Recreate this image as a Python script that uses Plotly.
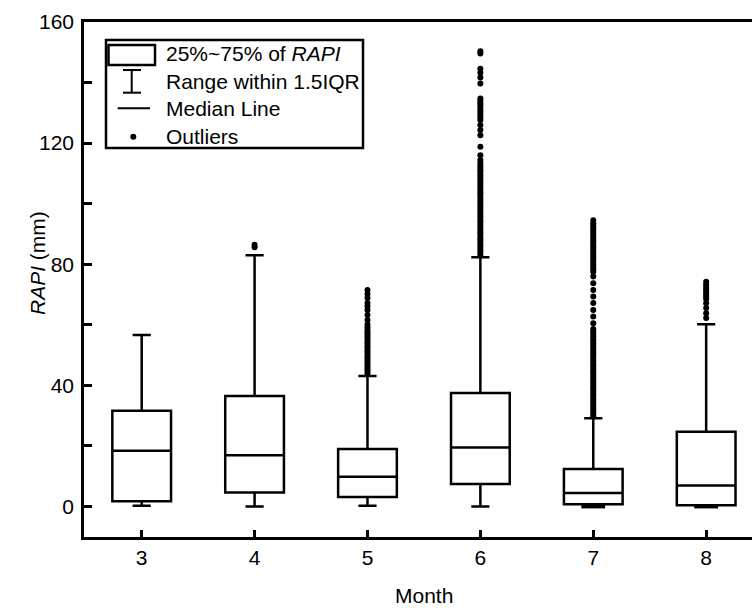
import plotly.graph_objects as go

# ---------------- data ----------------
months = [3, 4, 5, 6, 7, 8]
q1 = [1.7, 4.6, 3.1, 7.4, 0.7, 0.4]
median = [18.4, 16.9, 9.8, 19.5, 4.4, 6.9]
q3 = [31.6, 36.5, 19.0, 37.5, 12.4, 24.7]
lower = [0.2, 0.0, 0.2, 0.0, 0.0, 0.0]
upper = [56.6, 83.0, 43.1, 82.3, 29.1, 60.2]

out_4 = [85.6, 86.4]
out_5 = [44.0, 44.8, 45.5, 46.3, 47.0, 47.8, 48.5, 49.3, 50.0, 50.8, 51.5, 52.3,
         53.0, 53.8, 54.5, 55.3, 56.0, 56.8, 57.5, 58.3, 59.2, 60.1, 61.6, 63.2,
         64.9, 66.1, 67.2, 68.8, 70.2, 71.5]
out_6 = [83.0, 83.8, 84.6, 85.4, 86.2, 87.0, 87.8, 88.6, 89.4, 90.2, 91.0, 91.8,
         92.6, 93.4, 94.2, 95.0, 95.8, 96.6, 97.4, 98.2, 99.0, 99.8, 100.6, 101.4,
         102.2, 103.0, 103.8, 104.6, 105.4, 106.2, 107.0, 107.8, 108.6, 109.4,
         110.2, 111.0, 111.8, 112.6, 113.4, 114.4, 116.0, 118.8, 122.6, 124.3,
         126.0, 127.6, 128.4, 129.2, 130.0, 130.8, 131.6, 132.4, 133.2, 134.0,
         134.7, 139.7, 141.7, 143.2, 144.6, 149.6, 150.3]
out_7 = [29.8, 30.6, 31.4, 32.2, 33.0, 33.8, 34.6, 35.4, 36.2, 37.0, 37.8, 38.6,
         39.4, 40.2, 41.0, 41.8, 42.6, 43.4, 44.2, 45.0, 45.8, 46.6, 47.4, 48.2,
         49.0, 49.8, 50.6, 51.4, 52.2, 53.0, 53.8, 54.6, 55.4, 56.2, 57.0, 57.8,
         58.6, 60.5, 62.7, 64.9, 67.2, 69.3, 71.5, 73.7, 75.9, 77.5, 78.3, 79.1,
         79.9, 80.7, 81.5, 82.3, 83.1, 83.9, 84.7, 85.5, 86.3, 87.1, 87.9, 88.7,
         89.5, 90.3, 91.1, 91.9, 92.7, 93.5, 94.5]
out_8 = [62.2, 63.8, 65.5, 67.1, 68.5, 69.3, 70.1, 70.9, 71.7, 72.5, 73.3, 74.2]
outliers = {4: out_4, 5: out_5, 6: out_6, 7: out_7, 8: out_8}

# months whose lower whisker cap is drawn heavier (many values at zero)
heavy_cap_months = [7, 8]
heavy_cap_values = [0.0, 0.0]

legend_labels = ["25%~75% of <i>RAPI</i>", "Range within 1.5IQR", "Median Line", "Outliers"]

FONT = "Liberation Sans, Arial, sans-serif"
LW = 2.5
W, H = 752, 608
ML, MR, MT, MB = 84, 0, 22, 71
PW, PH = W - ML - MR, H - MT - MB


def px(x):
    return (x - ML) / PW


def py(y):
    return (H - MB - y) / PH


fig = go.Figure()

fig.add_trace(go.Box(
    x=months, q1=q1, median=median, q3=q3,
    lowerfence=lower, upperfence=upper,
    boxpoints=False, width=0.52, whiskerwidth=0.31,
    fillcolor="rgba(255,255,255,0)",
    line=dict(color="black", width=LW),
    showlegend=False, hoverinfo="skip",
))

for m, vals in outliers.items():
    fig.add_trace(go.Scatter(
        x=[m] * len(vals), y=vals, mode="markers",
        marker=dict(color="black", size=6, line=dict(width=0)),
        showlegend=False, hoverinfo="skip",
    ))

# heavier lower caps (zero values piled on the whisker cap)
fig.add_trace(go.Scatter(
    x=heavy_cap_months, y=heavy_cap_values, mode="markers",
    marker=dict(symbol="line-ew", size=17, color="black",
                line=dict(color="black", width=4)),
    showlegend=False, hoverinfo="skip",
))

shapes = []
# legend frame
shapes.append(dict(type="rect", xref="paper", yref="paper",
                   x0=px(106), x1=px(363), y0=py(148), y1=py(40),
                   line=dict(color="black", width=LW), fillcolor="white", layer="above"))
# box icon
shapes.append(dict(type="rect", xref="paper", yref="paper",
                   x0=px(108.5), x1=px(155), y0=py(65), y1=py(45),
                   line=dict(color="black", width=LW), layer="above"))
# whisker icon
for (xa, ya, xb, yb) in [(131.7, 70, 131.7, 92.7), (123, 70, 141, 70), (123, 92.7, 141, 92.7)]:
    shapes.append(dict(type="line", xref="paper", yref="paper",
                       x0=px(xa), y0=py(ya), x1=px(xb), y1=py(yb),
                       line=dict(color="black", width=2), layer="above"))
# median line icon
shapes.append(dict(type="line", xref="paper", yref="paper",
                   x0=px(117.7), y0=py(108.3), x1=px(150), y1=py(108.3),
                   line=dict(color="black", width=2), layer="above"))
# outlier dot icon
shapes.append(dict(type="circle", xref="paper", yref="paper",
                   x0=px(130.3), y0=py(139.7), x1=px(136.3), y1=py(133.7),
                   fillcolor="black", line=dict(width=0), layer="above"))

annotations = []
for lab, yc in zip(legend_labels, [53.7, 81.7, 108, 136]):
    annotations.append(dict(text=lab, xref="paper", yref="paper", x=px(164), y=py(yc),
                            xanchor="left", yanchor="middle", showarrow=False,
                            font=dict(family=FONT, size=21, color="black")))
annotations.append(dict(text="<i>RAPI</i> (mm)", xref="paper", yref="paper",
                        x=px(37), y=py(263), textangle=-90, showarrow=False,
                        xanchor="center", yanchor="middle",
                        font=dict(family=FONT, size=21, color="black")))
annotations.append(dict(text="Month", xref="paper", yref="paper",
                        x=px(424), y=py(595), showarrow=False,
                        xanchor="center", yanchor="middle",
                        font=dict(family=FONT, size=21, color="black")))

fig.update_layout(
    width=W, height=H,
    margin=dict(l=ML, r=MR, t=MT, b=MB, pad=0),
    paper_bgcolor="white", plot_bgcolor="white",
    font=dict(family=FONT, size=21, color="black"),
    shapes=shapes, annotations=annotations,
    showlegend=False,
)
fig.update_xaxes(
    range=[2.489, 8.406], tickvals=months, ticks="inside", ticklen=7, tickwidth=LW,
    tickcolor="black", showline=True, linecolor="black", linewidth=LW, mirror=True,
    showgrid=False, zeroline=False, ticklabelstandoff=0,
    tickfont=dict(family=FONT, size=21, color="black"),
)
fig.update_yaxes(
    range=[-10.1, 160], tickvals=[0, 40, 80, 120, 160], ticks="inside", ticklen=8,
    tickwidth=LW, tickcolor="black", showline=True, linecolor="black", linewidth=LW,
    minor=dict(tickvals=[20, 60, 100, 140], ticks="inside", ticklen=8, tickwidth=LW,
               tickcolor="black"),
    showgrid=False, zeroline=False, ticklabelstandoff=3,
    tickfont=dict(family=FONT, size=21, color="black"),
)

fig.write_html("out.html")
